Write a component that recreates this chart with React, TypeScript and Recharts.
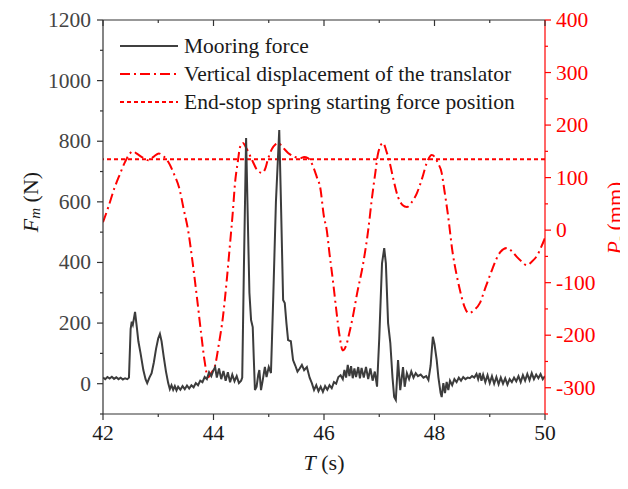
import { LineChart, Line, XAxis, YAxis, ReferenceLine, Legend } from 'recharts';

// mooring force (N)
const forceTime = [
    42.00, 42.04, 42.08, 42.12, 42.16, 42.20, 42.24, 42.28, 42.32, 42.36, 42.40, 42.44, 42.47, 42.50, 42.52, 42.54,
    42.56, 42.58, 42.61, 42.64, 42.68, 42.73, 42.77, 42.80, 42.84, 42.88, 42.92, 42.96, 43.00, 43.03, 43.06, 43.10,
    43.14, 43.18, 43.21, 43.24, 43.27, 43.30, 43.33, 43.36, 43.40, 43.44, 43.48, 43.52, 43.56, 43.60, 43.64, 43.68,
    43.72, 43.76, 43.80, 43.84, 43.88, 43.92, 43.96, 44.00, 44.03, 44.06, 44.10, 44.14, 44.18, 44.22, 44.26, 44.30,
    44.34, 44.38, 44.42, 44.46, 44.50, 44.52, 44.55, 44.59, 44.62, 44.65, 44.68, 44.71, 44.73, 44.75, 44.78, 44.81,
    44.83, 44.86, 44.89, 44.93, 44.96, 45.00, 45.04, 45.08, 45.13, 45.19, 45.22, 45.26, 45.29, 45.32, 45.35, 45.40,
    45.44, 45.48, 45.52, 45.56, 45.60, 45.64, 45.69, 45.74, 45.78, 45.82, 45.86, 45.90, 45.94, 45.98, 46.02, 46.06,
    46.10, 46.14, 46.18, 46.22, 46.26, 46.30, 46.34, 46.37, 46.40, 46.43, 46.46, 46.49, 46.52, 46.55, 46.58, 46.62,
    46.65, 46.68, 46.72, 46.76, 46.80, 46.84, 46.88, 46.92, 46.96, 47.00, 47.05, 47.09, 47.12, 47.16, 47.20, 47.24,
    47.27, 47.30, 47.34, 47.38, 47.43, 47.46, 47.50, 47.54, 47.58, 47.62, 47.66, 47.70, 47.75, 47.80, 47.85, 47.89,
    47.93, 47.97, 48.00, 48.04, 48.07, 48.11, 48.13, 48.16, 48.19, 48.22, 48.25, 48.28, 48.32, 48.36, 48.40, 48.44,
    48.48, 48.52, 48.56, 48.60, 48.64, 48.68, 48.72, 48.76, 48.79, 48.82, 48.85, 48.88, 48.92, 48.96, 49.00, 49.04,
    49.08, 49.12, 49.16, 49.20, 49.24, 49.28, 49.32, 49.36, 49.40, 49.44, 49.48, 49.52, 49.56, 49.60, 49.64, 49.68,
    49.72, 49.76, 49.80, 49.84, 49.88, 49.92, 49.96, 50.00,
];
const forceValues = [
    20, 15, 22, 17, 23, 16, 21, 15, 20, 14, 18, 15, 20, 180, 205, 195,
    215, 237, 190, 140, 100, 45, 15, 2, 20, 35, 70, 115, 150, 164, 140, 88,
    40, 2, -18, -5, -20, -8, -22, -10, -20, -8, -18, -6, -16, -5, -12, 2,
    -5, 10, 5, 22, 15, 38, 25, 45, 55, 20, 50, 15, 42, 10, 38, 5,
    30, 8, 25, 2, 10, 20, 380, 811, 550, 300, 210, 187, 80, -21, -10, 30,
    45, -21, 10, 55, 22, 55, 35, 276, 600, 837, 606, 276, 266, 200, 144, 140,
    78, 60, 40, 50, 62, 45, 55, 20, 2, -21, -5, -25, -10, -27, -8, -20,
    -5, -15, 5, 0, 22, 28, 15, 45, 20, 62, 25, 58, 18, 50, 22, 55,
    18, 52, 20, 55, 15, 50, 10, 40, -10, 150, 397, 447, 397, 200, 135, 20,
    -44, -54, 78, -21, 55, -10, 35, 15, 40, 20, 35, 25, 30, 20, 25, 12,
    60, 155, 130, 78, 22, -30, -44, 2, -31, 6, -21, 10, -5, 15, 5, 20,
    10, 22, 15, 20, 18, 25, 20, 32, 15, 35, 10, 30, 5, 28, 2, 25,
    0, 22, -2, 20, 0, 18, -3, 15, 5, 20, 8, 25, 5, 28, 10, 32,
    12, 35, 15, 30, 18, 32, 15, 25,
];

// vertical displacement of the translator (mm)
const dispTime = [
    42.00, 42.10, 42.20, 42.30, 42.40, 42.48, 42.54, 42.62, 42.72, 42.82, 42.92, 43.01, 43.10, 43.18, 43.28, 43.39,
    43.46, 43.54, 43.62, 43.70, 43.78, 43.84, 43.90, 43.96, 44.03, 44.10, 44.17, 44.24, 44.30, 44.35, 44.39, 44.44,
    44.48, 44.53, 44.60, 44.70, 44.80, 44.88, 44.94, 44.98, 45.06, 45.12, 45.17, 45.25, 45.35, 45.46, 45.57, 45.64,
    45.71, 45.80, 45.87, 45.93, 46.00, 46.05, 46.10, 46.16, 46.22, 46.28, 46.34, 46.40, 46.46, 46.52, 46.60, 46.71,
    46.80, 46.87, 46.93, 46.98, 47.07, 47.13, 47.19, 47.26, 47.34, 47.42, 47.50, 47.58, 47.68, 47.78, 47.86, 47.95,
    48.00, 48.06, 48.13, 48.18, 48.24, 48.33, 48.40, 48.46, 48.54, 48.62, 48.72, 48.82, 48.92, 49.04, 49.12, 49.19,
    49.31, 49.40, 49.49, 49.58, 49.67, 49.76, 49.86, 49.94, 50.00,
];
const dispValues = [
    15, 45, 78, 105, 130, 145, 150, 145, 138, 133, 140, 146, 140, 130, 108, 76,
    40, 0, -60, -128, -200, -250, -280, -272, -257, -215, -166, -95, -25, 35, 90, 130,
    158, 166, 155, 133, 113, 109, 118, 133, 155, 163, 166, 158, 147, 140, 137, 139,
    137, 122, 101, 82, 25, 0, -45, -95, -150, -200, -229, -220, -195, -166, -120, -63,
    0, 63, 110, 147, 166, 150, 128, 95, 63, 48, 44, 52, 70, 100, 128, 143,
    140, 128, 109, 75, 32, -44, -85, -114, -145, -158, -152, -139, -110, -76, -55, -42,
    -34, -40, -51, -60, -67, -60, -48, -30, -15,
];

const springPosition = 135;

const timeTicks = [42, 43, 44, 45, 46, 47, 48, 49, 50];
const forceTicks = [-100, 0, 100, 200, 300, 400, 500, 600, 700, 800, 900, 1000, 1100, 1200];
const dispTicks = [-350, -300, -250, -200, -150, -100, -50, 0, 50, 100, 150, 200, 250, 300, 350, 400];

const seriesNames = [
    'Mooring force',
    'Vertical displacement of the translator',
    'End-stop spring starting force position',
];

const FONT = 'Liberation Serif, Times New Roman, serif';
const RED = '#ff0000';
const AXIS = '#333333';
const DASH_DOT = '10 4 2 4';

const forceData = forceTime.map((t, i) => ({ t, f: forceValues[i] }));
const dispData = dispTime.map((t, i) => ({ t, p: dispValues[i] }));

const BottomTick = ({ x, y, payload }: any) => {
    const major = payload.value % 2 === 0;
    return (
        <g>
            <line x1={x} x2={x} y1={y} y2={y + (major ? 6 : 3)} stroke={AXIS} strokeWidth={1.2} />
            {major && (
                <text x={x} y={y + 19} textAnchor="middle" dominantBaseline="central" style={{ fontFamily: FONT }} fontSize={21.5} fill="#1a1a1a">
                    {payload.value}
                </text>
            )}
        </g>
    );
};

const TopTick = ({ x, y, payload }: any) => {
    const major = payload.value % 2 === 0;
    return <line x1={x} x2={x} y1={y} y2={y + (major ? 6 : 3)} stroke={AXIS} strokeWidth={1.2} />;
};

const LeftTick = ({ x, y, payload }: any) => {
    const major = payload.value % 200 === 0;
    return (
        <g>
            <line x1={x - (major ? 6 : 3)} x2={x} y1={y} y2={y} stroke={AXIS} strokeWidth={1.2} />
            {major && (
                <text x={x - 12} y={y} textAnchor="end" dominantBaseline="central" style={{ fontFamily: FONT }} fontSize={21.5} fill="#444">
                    {payload.value}
                </text>
            )}
        </g>
    );
};

const RightTick = ({ x, y, payload }: any) => {
    const major = payload.value % 100 === 0;
    return (
        <g>
            <line x1={x} x2={x + (major ? 6 : 3)} y1={y} y2={y} stroke={RED} strokeWidth={1.2} />
            {major && (
                <text x={x + 11} y={y} textAnchor="start" dominantBaseline="central" style={{ fontFamily: FONT }} fontSize={21.5} fill={RED}>
                    {payload.value}
                </text>
            )}
        </g>
    );
};

const LegendBox = () => {
    const samples = [
        { stroke: '#404040', dash: undefined },
        { stroke: RED, dash: DASH_DOT },
        { stroke: RED, dash: '4 3' },
    ];
    return (
        <div style={{ fontFamily: FONT, fontSize: 21.5, color: '#1a1a1a' }}>
            {seriesNames.map((name, i) => (
                <div key={name} style={{ display: 'flex', alignItems: 'center', height: 28, whiteSpace: 'nowrap' }}>
                    <svg width={60} height={10} style={{ marginRight: 4 }}>
                        <line x1={0} x2={58} y1={5} y2={5} stroke={samples[i].stroke} strokeWidth={2} strokeDasharray={samples[i].dash} />
                    </svg>
                    <span>{name}</span>
                </div>
            ))}
        </div>
    );
};

export default function App() {
    return (
        <LineChart width={620} height={473} margin={{ top: 0, right: 0, bottom: 0, left: 0 }}>
            <XAxis
                xAxisId="b"
                dataKey="t"
                type="number"
                domain={[42, 50]}
                ticks={timeTicks}
                allowDataOverflow
                height={67}
                stroke={AXIS}
                strokeWidth={1.2}
                tickLine={false}
                tickSize={0}
                tickMargin={0}
                tick={BottomTick}
                label={({ viewBox }: any) => (
                    <text
                        x={viewBox.x + viewBox.width / 2}
                        y={viewBox.y + 48}
                        textAnchor="middle"
                        dominantBaseline="central"
                        style={{ fontFamily: FONT }}
                        fontSize={22}
                        fill="#1a1a1a"
                    >
                        <tspan fontStyle="italic">T</tspan> (s)
                    </text>
                )}
            />
            <XAxis
                xAxisId="t"
                orientation="top"
                dataKey="t"
                type="number"
                domain={[42, 50]}
                ticks={timeTicks}
                allowDataOverflow
                height={12}
                stroke={AXIS}
                strokeWidth={1.2}
                tickLine={false}
                tickSize={0}
                tickMargin={0}
                tick={TopTick}
            />
            <YAxis
                yAxisId="f"
                type="number"
                domain={[-100, 1200]}
                ticks={forceTicks}
                allowDataOverflow
                width={95}
                stroke={AXIS}
                strokeWidth={1.2}
                tickLine={false}
                tickSize={0}
                tickMargin={0}
                tick={LeftTick}
                label={({ viewBox }: any) => {
                    const cx = viewBox.x + 22;
                    const cy = viewBox.y + viewBox.height / 2 - 15;
                    return (
                        <text
                            x={cx}
                            y={cy}
                            transform={`rotate(-90 ${cx} ${cy})`}
                            textAnchor="middle"
                            dominantBaseline="central"
                            style={{ fontFamily: FONT }}
                            fontSize={22}
                            fill="#1a1a1a"
                        >
                            <tspan fontStyle="italic">F</tspan>
                            <tspan fontStyle="italic" fontSize={15} dy={5}>m</tspan>
                            <tspan dy={-5}> (N)</tspan>
                        </text>
                    );
                }}
            />
            <YAxis
                yAxisId="p"
                orientation="right"
                type="number"
                domain={[-350, 400]}
                ticks={dispTicks}
                allowDataOverflow
                width={83}
                stroke={RED}
                strokeWidth={1.2}
                tickLine={false}
                tickSize={0}
                tickMargin={0}
                tick={RightTick}
                label={({ viewBox }: any) => {
                    const cx = viewBox.x + 69;
                    const cy = viewBox.y + viewBox.height / 2 + 1;
                    return (
                        <text
                            x={cx}
                            y={cy}
                            transform={`rotate(-90 ${cx} ${cy})`}
                            textAnchor="middle"
                            dominantBaseline="central"
                            style={{ fontFamily: FONT }}
                            fontSize={22}
                            fill={RED}
                        >
                            <tspan fontStyle="italic">P</tspan>
                            <tspan fontStyle="italic" fontSize={15} dy={5}>-</tspan>
                            <tspan dy={-5}> (mm)</tspan>
                        </text>
                    );
                }}
            />
            <ReferenceLine
                xAxisId="b"
                yAxisId="p"
                y={springPosition}
                stroke={RED}
                strokeWidth={2}
                strokeDasharray="4 3"
            />
            <Line
                xAxisId="b"
                yAxisId="p"
                data={dispData}
                dataKey="p"
                type="monotone"
                stroke={RED}
                strokeWidth={2}
                strokeDasharray={DASH_DOT}
                dot={false}
                isAnimationActive={false}
            />
            <Line
                xAxisId="b"
                yAxisId="f"
                data={forceData}
                dataKey="f"
                type="linear"
                stroke="#3c3c3c"
                strokeWidth={2}
                dot={false}
                isAnimationActive={false}
            />
            <Legend
                layout="vertical"
                align="center"
                verticalAlign="middle"
                content={LegendBox}
                wrapperStyle={{ top: 24, left: 112, width: 440 }}
            />
        </LineChart>
    );
}
